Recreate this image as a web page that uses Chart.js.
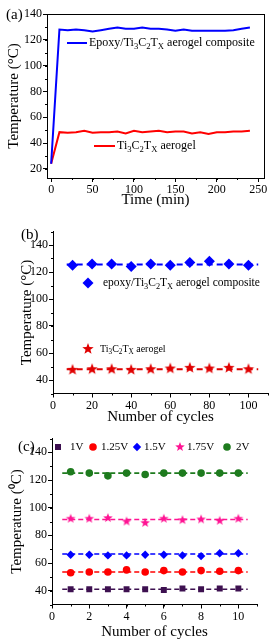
<!DOCTYPE html>
<html>
<head>
<meta charset="utf-8">
<script src="https://cdn.jsdelivr.net/npm/chart.js@4.4.1/dist/chart.umd.min.js"></script>
<style>
  html, body { margin: 0; padding: 0; background: #fff; }
  #wrap { position: relative; width: 275px; height: 643px; }
  .panel { position: absolute; left: 0; width: 275px; }
</style>
</head>
<body>
<div id="wrap">
  <div class="panel" style="top:0;height:210px"><canvas id="chartA"></canvas></div>
  <div class="panel" style="top:212px;height:214px"><canvas id="chartB"></canvas></div>
  <div class="panel" style="top:426px;height:217px"><canvas id="chartC"></canvas></div>
</div>
<script>
// (a) temperature vs time
var timeA = [0, 10, 20, 30, 40, 50, 60, 70, 80, 90, 100, 110, 120, 130, 140, 150, 160, 170, 180, 190, 200, 210, 220, 230, 240];
var epoxyA = [24, 128, 127.5, 128, 127.5, 126.5, 127.5, 128.5, 129.5, 128.5, 128.5, 129.5, 128.5, 128.5, 128, 127, 128, 127, 127, 127, 127, 127, 127.5, 128.5, 129.5];
var aerogelA = [24, 48.5, 48, 48.5, 49.5, 48, 48.5, 48.5, 49, 47.5, 49.5, 48.5, 49, 49.5, 48.5, 49, 49, 47.5, 48.5, 47, 48.5, 48.5, 49, 49, 49.5];
var xTicksA = [0, 50, 100, 150, 200, 250];
var yTicksA = [20, 40, 60, 80, 100, 120, 140];

// (b) cycling, 100 cycles
var cyclesB = [10, 20, 30, 40, 50, 60, 70, 80, 90, 100];
var epoxyB = [125, 126, 126, 124, 126, 125, 127, 128, 126, 125];
var aerogelB = [47.5, 48, 48, 47.5, 48, 48.5, 49, 48.5, 49, 48];
var fitSpanB = [7, 105];
var fitEpoxyB = 125.5;
var fitAerogelB = 48;
var xTicksB = [0, 20, 40, 60, 80, 100];
var yTicksB = [40, 60, 80, 100, 120, 140];

// (c) cycling at different voltages
var cyclesC = [1, 2, 3, 4, 5, 6, 7, 8, 9, 10];
var voltagesC = ['1V', '1.25V', '1.5V', '1.75V', '2V'];
var v1C = [41, 41, 41, 41, 41, 40.5, 41.5, 41, 41.5, 41.5];
var v125C = [53, 53.5, 53.5, 55, 53.5, 54.5, 53.5, 54.5, 54, 54.5];
var v15C = [66, 66, 65.5, 65.5, 66, 66, 65.5, 65, 67, 67];
var v175C = [92, 92, 92.5, 90, 89, 92, 91, 91.5, 90.5, 92];
var v2C = [126, 125, 123, 125, 124, 125, 125, 125, 125, 125];
var fitLevelsC = [41, 53.5, 66.5, 91.5, 125];
var fitSpanC = [0.55, 10.5];
var xTicksC = [0, 2, 4, 6, 8, 10];
var yTicksC = [40, 60, 80, 100, 120, 140];

var SERIF = "'Liberation Serif', 'Times New Roman', serif";
var BLUE = '#0000ff';
var RED = '#ff0000';
var colorsC = ['#3d1050', '#ff0000', '#0000ff', '#ff1493', '#1e7b1e'];

function starCanvas(color, r) {
  var c = document.createElement('canvas');
  var s = Math.ceil(r * 2 + 2);
  c.width = s; c.height = s;
  var g = c.getContext('2d');
  g.fillStyle = color;
  g.beginPath();
  for (var i = 0; i < 10; i++) {
    var rad = i % 2 === 0 ? r : r * 0.42;
    var a = -Math.PI / 2 + i * Math.PI / 5;
    var px = s / 2 + rad * Math.cos(a), py = s / 2 + rad * Math.sin(a);
    if (i === 0) g.moveTo(px, py); else g.lineTo(px, py);
  }
  g.closePath();
  g.fill();
  return c;
}

function pts(xs, ys) {
  return xs.map(function(x, i) { return { x: x, y: ys[i] }; });
}

function fitLine(span, level) {
  return [{ x: span[0], y: level }, { x: span[1], y: level }];
}

// Ti3C2Tx with subscripts
function tiParts(pre, post) {
  return [[pre + 'Ti', 0], ['3', 1], ['C', 0], ['2', 1], ['T', 0], ['X', 1], [post, 0]];
}

function drawRich(ctx, parts, x, y, size) {
  parts.forEach(function(p) {
    var fs = p[1] ? size * 0.72 : size;
    ctx.font = fs + 'px ' + SERIF;
    ctx.fillText(p[0], x, p[1] ? y + size * 0.3 : y);
    x += ctx.measureText(p[0]).width;
  });
}

function drawMarker(ctx, m, x, y) {
  ctx.fillStyle = m.color;
  ctx.strokeStyle = m.color;
  if (m.type === 'line') {
    ctx.lineWidth = 2;
    ctx.beginPath(); ctx.moveTo(x, y); ctx.lineTo(x + m.len, y); ctx.stroke();
  } else if (m.type === 'image') {
    ctx.drawImage(m.img, x - m.img.width / 2, y - m.img.height / 2);
  } else if (m.type === 'rect') {
    ctx.fillRect(x - m.r, y - m.r, m.r * 2, m.r * 2);
  } else if (m.type === 'circle') {
    ctx.beginPath(); ctx.arc(x, y, m.r, 0, Math.PI * 2); ctx.fill();
  } else if (m.type === 'diamond') {
    ctx.beginPath();
    ctx.moveTo(x - m.r, y); ctx.lineTo(x, y - m.r); ctx.lineTo(x + m.r, y); ctx.lineTo(x, y + m.r);
    ctx.closePath(); ctx.fill();
  }
}

// panel letter, legend entries, minor ticks, optional frame
var decor = {
  id: 'decor',
  afterDraw: function(chart, args, opts) {
    var ctx = chart.ctx;
    var area = chart.chartArea;
    ctx.save();
    ctx.strokeStyle = '#000';
    ctx.lineWidth = 1;
    ['x', 'y'].forEach(function(id) {
      var s = chart.scales[id];
      var step = s.options.minorStep;
      if (!step) return;
      var n0 = Math.ceil(s.min / step), n1 = Math.floor(s.max / step);
      for (var n = n0; n <= n1; n++) {
        var p = Math.round(s.getPixelForValue(n * step)) + 0.5;
        ctx.beginPath();
        if (id === 'x') { ctx.moveTo(p, area.bottom); ctx.lineTo(p, area.bottom + 2); }
        else { ctx.moveTo(area.left, p); ctx.lineTo(area.left - 2, p); }
        ctx.stroke();
      }
    });
    if (opts.frame) {
      ctx.strokeRect(Math.round(area.left) + 0.5, Math.round(area.top) + 0.5,
        Math.round(area.right - area.left), Math.round(area.bottom - area.top));
    }
    ctx.textBaseline = 'middle';
    ctx.textAlign = 'left';
    ctx.fillStyle = '#000';
    ctx.font = '15px ' + SERIF;
    ctx.fillText(opts.letter[0], opts.letter[1], opts.letter[2]);
    (opts.items || []).forEach(function(it) {
      drawMarker(ctx, it.marker, it.mx, it.y);
      ctx.fillStyle = '#000';
      drawRich(ctx, it.parts, it.tx, it.y, it.size);
    });
    ctx.restore();
  }
};

function axes(xmin, xmax, xticks, xminor, ymin, ymax, yticks, yminor, yw, xh, xtitle, ytitle, ypad, xpad) {
  var tickFont = { family: SERIF, size: 12 };
  var titleFont = { family: SERIF, size: 15 };
  return {
    x: {
      type: 'linear', min: xmin, max: xmax, minorStep: xminor,
      afterBuildTicks: function(s) { s.ticks = xticks.map(function(v) { return { value: v }; }); },
      afterFit: function(s) { s.height = xh; },
      grid: { drawOnChartArea: false, tickLength: 4, tickColor: '#000' },
      border: { display: true, color: '#000', width: 1 },
      ticks: { color: '#000', font: tickFont, padding: 1, maxRotation: 0 },
      title: { display: true, text: xtitle, color: '#000', font: titleFont, padding: { top: 0, bottom: xpad } }
    },
    y: {
      type: 'linear', min: ymin, max: ymax, minorStep: yminor,
      afterBuildTicks: function(s) { s.ticks = yticks.map(function(v) { return { value: v }; }); },
      afterFit: function(s) { s.width = yw; },
      grid: { drawOnChartArea: false, tickLength: 4, tickColor: '#000' },
      border: { display: true, color: '#000', width: 1 },
      ticks: { color: '#000', font: tickFont, padding: 1 },
      title: { display: true, text: ytitle, color: '#000', font: titleFont, padding: { top: ypad, bottom: 0 } }
    }
  };
}

var common = {
  responsive: true,
  maintainAspectRatio: false,
  animation: false,
  events: []
};

new Chart(document.getElementById('chartA'), {
  type: 'line',
  data: {
    datasets: [
      { data: pts(timeA, epoxyA), borderColor: BLUE, borderWidth: 2, pointRadius: 0, tension: 0, fill: false },
      { data: pts(timeA, aerogelA), borderColor: RED, borderWidth: 2, pointRadius: 0, tension: 0, fill: false }
    ]
  },
  options: Object.assign({}, common, {
    layout: { padding: { top: 14, right: 11, left: 0, bottom: 0 } },
    scales: axes(-5, 257, xTicksA, 25, 13, 140, yTicksA, 10, 47, 32, 'Time (min)', 'Temperature (°C)', 5, 1),
    plugins: {
      legend: { display: false },
      tooltip: { enabled: false },
      decor: {
        frame: true,
        letter: ['(a)', 6, 15],
        items: [
          { marker: { type: 'line', color: BLUE, len: 20 }, mx: 67, tx: 89, y: 43, size: 12, parts: tiParts('Epoxy/', ' aerogel composite') },
          { marker: { type: 'line', color: RED, len: 21 }, mx: 94, tx: 117, y: 146, size: 12, parts: tiParts('', ' aerogel') }
        ]
      }
    }
  }),
  plugins: [decor]
});

var starB = starCanvas('#e00000', 6);
new Chart(document.getElementById('chartB'), {
  type: 'scatter',
  data: {
    datasets: [
      { data: fitLine(fitSpanB, fitEpoxyB), showLine: true, borderColor: BLUE, borderWidth: 2, borderDash: [6, 4], pointRadius: 0, order: 2 },
      { data: fitLine(fitSpanB, fitAerogelB), showLine: true, borderColor: '#e00000', borderWidth: 2, borderDash: [6, 4], pointRadius: 0, order: 2 },
      { data: pts(cyclesB, epoxyB), pointStyle: 'rectRot', pointRadius: 5.5, backgroundColor: BLUE, borderColor: BLUE, borderWidth: 0, order: 1 },
      { data: pts(cyclesB, aerogelB), pointStyle: starB, pointRadius: 6, order: 1 }
    ]
  },
  options: Object.assign({}, common, {
    layout: { padding: { top: 19.5, right: 7, left: 0, bottom: 0 } },
    scales: axes(0, 110, xTicksB, 10, 30, 150, yTicksB, 10, 53, 32.5, 'Number of cycles', 'Temperature (°C)', 18, 0),
    plugins: {
      legend: { display: false },
      tooltip: { enabled: false },
      decor: {
        letter: ['(b)', 21, 23],
        items: [
          { marker: { type: 'diamond', color: BLUE, r: 5.5 }, mx: 88, tx: 103, y: 71, size: 11.5, parts: tiParts('epoxy/', ' aerogel composite') },
          { marker: { type: 'image', img: starB }, mx: 88, tx: 100, y: 137, size: 10, parts: tiParts('', ' aerogel') }
        ]
      }
    }
  }),
  plugins: [decor]
});

var starC = starCanvas(colorsC[3], 5);
var seriesC = [v1C, v125C, v15C, v175C, v2C];
var stylesC = [
  { pointStyle: 'rect', pointRadius: 4.2 },
  { pointStyle: 'circle', pointRadius: 3.8 },
  { pointStyle: 'rectRot', pointRadius: 4.2 },
  { pointStyle: starC, pointRadius: 5 },
  { pointStyle: 'circle', pointRadius: 3.8 }
];
var markersC = [
  { type: 'rect', r: 3 }, { type: 'circle', r: 3.8 }, { type: 'diamond', r: 4.2 },
  { type: 'image', img: starC }, { type: 'circle', r: 3.8 }
];
var datasetsC = [];
seriesC.forEach(function(ys, i) {
  datasetsC.push({ data: fitLine(fitSpanC, fitLevelsC[i]), showLine: true, borderColor: colorsC[i], borderWidth: 1.6, borderDash: [5, 3], pointRadius: 0, order: 2 });
});
seriesC.forEach(function(ys, i) {
  datasetsC.push(Object.assign({ data: pts(cyclesC, ys), backgroundColor: colorsC[i], borderColor: colorsC[i], borderWidth: 0, order: 1 }, stylesC[i]));
});
var legendXC = [[58, 70], [93, 101], [137, 144], [180, 187], [227, 236]];
var itemsC = voltagesC.map(function(v, i) {
  var m = Object.assign({ color: colorsC[i] }, markersC[i]);
  return { marker: m, mx: legendXC[i][0], tx: legendXC[i][1], y: 21, size: 11, parts: [[v, 0]] };
});

new Chart(document.getElementById('chartC'), {
  type: 'scatter',
  data: { datasets: datasetsC },
  options: Object.assign({}, common, {
    layout: { padding: { top: 12.5, right: 18, left: 0, bottom: 0 } },
    scales: axes(0, 11, xTicksC, 1, 30, 150, yTicksC, 10, 52, 38.5, 'Number of cycles', 'Temperature (⁰C)', 8, 2),
    plugins: {
      legend: { display: false },
      tooltip: { enabled: false },
      decor: {
        letter: ['(c)', 18, 21],
        items: itemsC
      }
    }
  }),
  plugins: [decor]
});
</script>
</body>
</html>
